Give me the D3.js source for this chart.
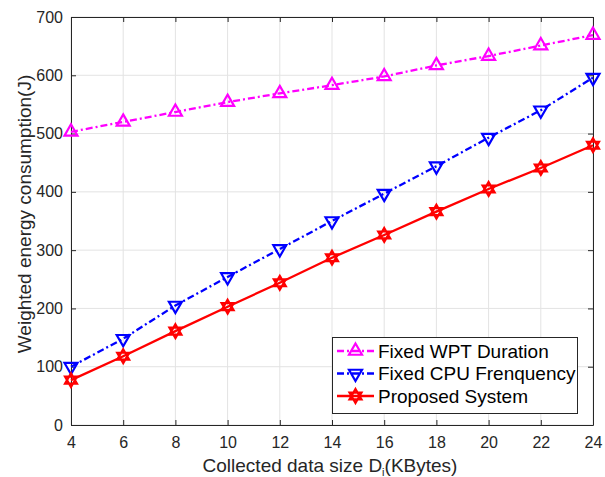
<!DOCTYPE html>
<html><head><meta charset="utf-8">
<script src="https://cdn.jsdelivr.net/npm/d3@7"></script>
<style>body{margin:0;background:#fff}svg{display:block;font-family:"Liberation Sans",Arial,sans-serif}</style>
</head><body><svg id="c" width="605" height="477"></svg>
<script>
const xValues = [4,6,8,10,12,14,16,18,20,22,24];
const wptValues = [503,520,537,554,569,583,598,617,633,651,669];
const cpuValues = [100,148,205,254,302,350,397,444,493,540,596];
const proposedValues = [77,118,161,203,244,287,326,366,405,441,480];
const seriesNames = ["Fixed WPT Duration","Fixed CPU Frenquency","Proposed System"];
const xTicks = [4,6,8,10,12,14,16,18,20,22,24];
const yTicks = [0,100,200,300,400,500,600,700];

const svg = d3.select("#c");
const L=71,R=593,T=17,B=425;
const x = d3.scaleLinear().domain([4,24]).range([L,R]);
const y = d3.scaleLinear().domain([0,700]).range([B,T]);
const axisCol = "#262626";

// grid
const g = svg.append("g");
g.selectAll(".gx").data(xTicks).join("line").attr("x1",d=>x(d)).attr("x2",d=>x(d)).attr("y1",T).attr("y2",B).attr("stroke","#e3e3e3").attr("stroke-width",1);
g.selectAll(".gy").data(yTicks).join("line").attr("x1",L).attr("x2",R).attr("y1",d=>y(d)).attr("y2",d=>y(d)).attr("stroke","#e3e3e3").attr("stroke-width",1);

// axes
const ax = svg.append("g").attr("transform",`translate(0,${B})`).call(d3.axisBottom(x).tickValues(xTicks).tickSize(-5).tickPadding(9).tickSizeOuter(0));
const ay = svg.append("g").attr("transform",`translate(${L},0)`).call(d3.axisLeft(y).tickValues(yTicks).tickSize(-5).tickPadding(8).tickSizeOuter(0));
const axT = svg.append("g").attr("transform",`translate(0,${T})`).call(d3.axisTop(x).tickValues(xTicks).tickSize(-5).tickFormat("").tickSizeOuter(0));
const ayR = svg.append("g").attr("transform",`translate(${R},0)`).call(d3.axisRight(y).tickValues(yTicks).tickSize(-5).tickFormat("").tickSizeOuter(0));
[ax,ay,axT,ayR].forEach(a=>{
  a.selectAll("path").attr("stroke",axisCol).attr("stroke-width",1);
  a.selectAll("line").attr("stroke",axisCol);
  a.selectAll("text").attr("fill",axisCol).attr("font-size",16).attr("font-family","Liberation Sans, Arial, sans-serif");
});
ax.selectAll("text").attr("dy","0.85em");

// labels
svg.append("text").attr("x",330).attr("y",472).attr("text-anchor","middle").attr("font-size",19).attr("fill",axisCol)
  .html('Collected data size D<tspan font-size="11" dy="4">i</tspan><tspan dy="-4">(KBytes)</tspan>');
svg.append("text").attr("transform",`translate(31,214) rotate(-90)`).attr("text-anchor","middle").attr("font-size",19).attr("fill",axisCol)
  .text("Weighted energy consumption(J)");

// markers
function triUp(s){const h=s*0.866;return `M0,${-h*2/3}L${s/2},${h/3}L${-s/2},${h/3}Z`;}
function triDown(s){const h=s*0.866;return `M0,${h*2/3}L${s/2},${-h/3}L${-s/2},${-h/3}Z`;}
function hexagram(s){return triUp(s)+triDown(s);}

const series = [
  {name:seriesNames[0], vals:wptValues, color:"#ff00ff", dash:"7,3,2,3", marker:triUp(13)},
  {name:seriesNames[1], vals:cpuValues, color:"#0000ff", dash:"7,3,2,3", marker:triDown(13)},
  {name:seriesNames[2], vals:proposedValues, color:"#ff0000", dash:null, marker:hexagram(12)}
];
const line = d3.line().x(d=>x(d[0])).y(d=>y(d[1]));
series.forEach(s=>{
  const pts = xValues.map((v,i)=>[v,s.vals[i]]);
  svg.append("path").datum(pts).attr("d",line).attr("fill","none").attr("stroke",s.color).attr("stroke-width",2.3).attr("stroke-dasharray",s.dash);
  svg.selectAll(null).data(pts).join("path").attr("transform",d=>`translate(${x(d[0])},${y(d[1])})`).attr("d",s.marker)
    .attr("fill","none").attr("stroke",s.color).attr("stroke-width",2.2);
});

// legend
const lg = svg.append("g");
lg.append("rect").attr("x",332.5).attr("y",337.5).attr("width",245).attr("height",76).attr("fill","#fff").attr("stroke",axisCol).attr("stroke-width",1);
series.forEach((s,i)=>{
  const yy = 351+i*22.5;
  lg.append("line").attr("x1",337).attr("x2",374).attr("y1",yy).attr("y2",yy).attr("stroke",s.color).attr("stroke-width",2.3).attr("stroke-dasharray",s.dash);
  lg.append("path").attr("transform",`translate(355.5,${yy})`).attr("d",s.marker).attr("fill","none").attr("stroke",s.color).attr("stroke-width",2.2);
  lg.append("text").attr("x",378).attr("y",yy).attr("dy","0.35em").attr("font-size",19).attr("fill","#000").text(s.name);
});
</script></body></html>
